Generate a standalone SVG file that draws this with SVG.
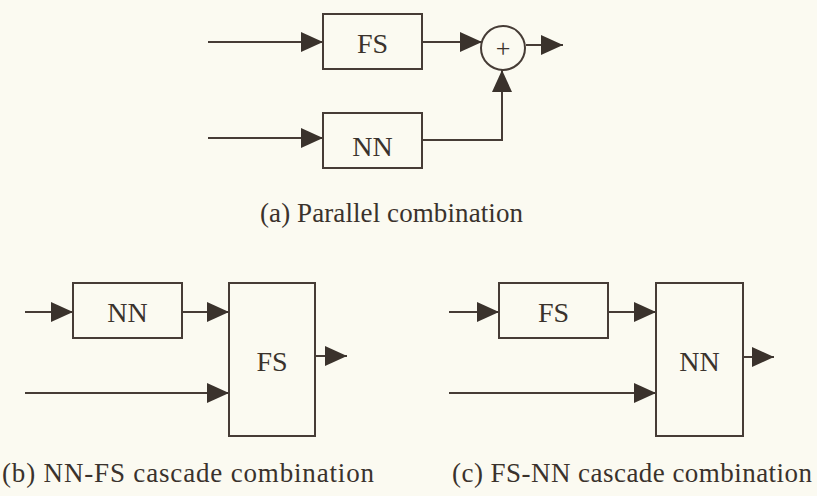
<svg xmlns="http://www.w3.org/2000/svg" width="817" height="496" viewBox="0 0 817 496">
<defs>
<style>
.box{fill:none;stroke:#463c36;stroke-width:2}
.ln{fill:none;stroke:#463c36;stroke-width:2;marker-end:url(#ah)}
.lbl{font-family:"Liberation Serif","Times New Roman",Times,serif;font-size:28px;fill:#3a322c;text-anchor:middle}
.cap{font-family:"Liberation Serif","Times New Roman",Times,serif;font-size:27px;fill:#3a322c}
</style>
<marker id="ah" markerUnits="userSpaceOnUse" viewBox="0 0 22 20" refX="22" refY="10" markerWidth="22" markerHeight="20" orient="auto">
<path d="M0,0 L22,10 L0,20 Z" fill="#3a322c"/>
</marker>
</defs>
<rect width="817" height="496" fill="#fbfaf1"/>

<g id="connectors">
<path class="ln" d="M208,42 H323"/>
<path class="ln" d="M208,138 H323"/>
<path class="ln" d="M422,42 H482"/>
<path class="ln" d="M526,45 H563"/>
<path class="ln" d="M422,140 H502 V70"/>
<path class="ln" d="M25,312 H73"/>
<path class="ln" d="M182,312 H229"/>
<path class="ln" d="M25,393 H229"/>
<path class="ln" d="M315,356 H347"/>
<path class="ln" d="M449,312 H499"/>
<path class="ln" d="M608,312 H656"/>
<path class="ln" d="M449,393 H656"/>
<path class="ln" d="M743,357 H774"/>
</g>

<g id="a-fs">
<rect class="box" x="323" y="14" width="99" height="55"/>
<text class="lbl" x="372.5" y="53">FS</text>
</g>
<g id="a-nn">
<rect class="box" x="323" y="113" width="99" height="55"/>
<text class="lbl" x="372.5" y="156">NN</text>
</g>
<g id="a-sum">
<circle cx="503" cy="48" r="22" fill="none" stroke="#463c36" stroke-width="2"/>
<text x="503" y="57" font-family="Liberation Serif, Times New Roman, serif" font-size="26" fill="#3a322c" text-anchor="middle">+</text>
</g>
<text class="cap" x="260" y="222" textLength="263" lengthAdjust="spacing">(a) Parallel combination</text>

<g id="b-nn">
<rect class="box" x="73" y="283" width="109" height="55"/>
<text class="lbl" x="127.5" y="322">NN</text>
</g>
<g id="b-fs">
<rect class="box" x="229" y="283" width="86" height="153"/>
<text class="lbl" x="272" y="371">FS</text>
</g>
<text class="cap" x="2" y="482" textLength="372" lengthAdjust="spacing">(b) NN-FS cascade combination</text>

<g id="c-fs">
<rect class="box" x="499" y="283" width="109" height="55"/>
<text class="lbl" x="553.5" y="322">FS</text>
</g>
<g id="c-nn">
<rect class="box" x="656" y="283" width="87" height="153"/>
<text class="lbl" x="699.5" y="371">NN</text>
</g>
<text class="cap" x="452" y="482" textLength="360" lengthAdjust="spacing">(c) FS-NN cascade combination</text>
</svg>
